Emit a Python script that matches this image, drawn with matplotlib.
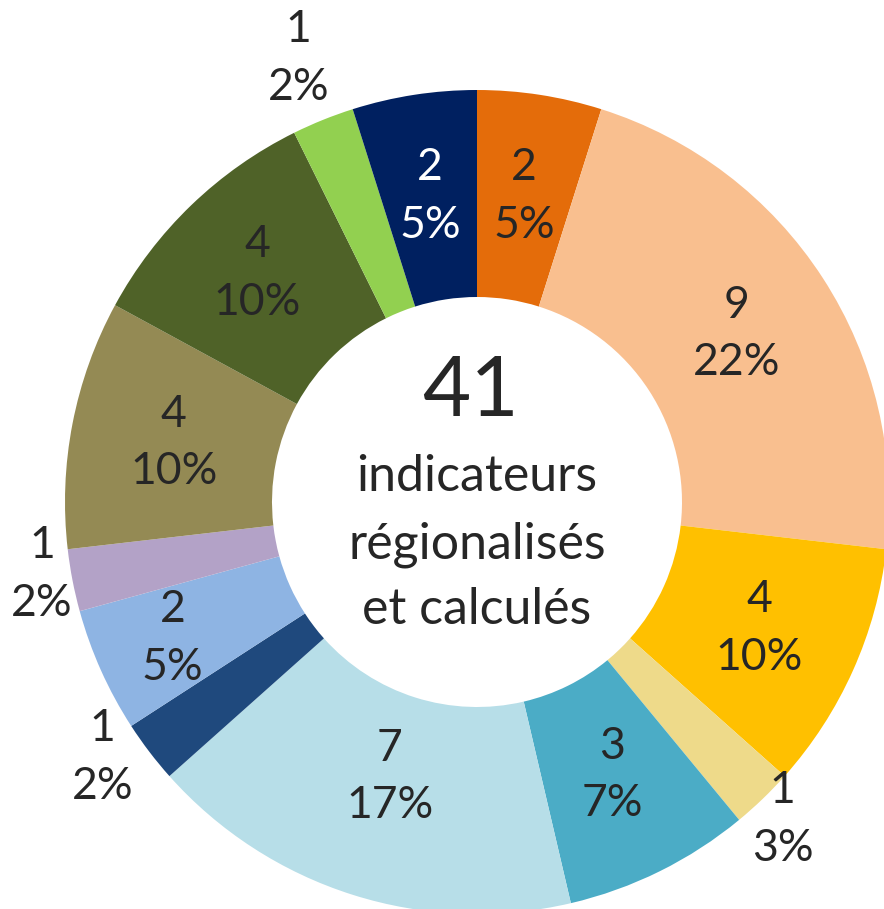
import numpy as np
import matplotlib.pyplot as plt

plt.rcParams['font.family'] = ['Lato', 'DejaVu Sans']

# slices clockwise from the top
counts = [2, 9, 4, 1, 3, 7, 1, 2, 1, 4, 4, 1, 2]
pct_labels = ['5%', '22%', '10%', '3%', '7%', '17%', '2%', '5%', '2%', '10%', '10%', '2%', '5%']
colors = ['#E46C0A', '#F9BF8F', '#FFC000', '#EEDA8A', '#4BACC6', '#B7DEE8', '#1F497D',
          '#8EB4E3', '#B3A2C7', '#948A54', '#4F6228', '#92D050', '#002060']
total_label = '41'
center_lines = ['indicateurs', 'régionalisés', 'et calculés']

# where each label sits: fraction of the outer radius, and a small angle nudge (deg, clockwise)
label_r = [0.75, 0.75, 0.75, 1.07, 0.74, 0.70, 1.10, 0.81, 1.07, 0.75, 0.77, 1.16, 0.75]
label_nudge = [0, 0, 0, 0, 0, 0, 3, 0, 1.5, 0, 0, 0, 0]
text_colors = ['#262626'] * 12 + ['white']

W, H = 884, 909
cx, cy = 477, H - 502
R = 412
ring = 207

fig = plt.figure(figsize=(W / 100, H / 100), dpi=100)
ax = fig.add_axes([0, 0, 1, 1])

wedges, _ = ax.pie(counts, colors=colors, startangle=90, counterclock=False,
                   center=(cx, cy), radius=R,
                   wedgeprops=dict(width=ring, linewidth=0))

for w, n, p, lr, dn, tc in zip(wedges, counts, pct_labels, label_r, label_nudge, text_colors):
    mid = np.deg2rad((w.theta1 + w.theta2) / 2 - dn)
    x = cx + lr * R * np.cos(mid)
    y = cy + lr * R * np.sin(mid)
    ax.text(x, y, f'{n}\n{p}', ha='center', va='center', fontsize=32,
            color=tc, linespacing=1.5)

ax.text(470, H - 393, total_label, ha='center', va='center', fontsize=60, color='#262626')
for line, ty in zip(center_lines, [477, 545, 610]):
    ax.text(477, H - ty, line, ha='center', va='center', fontsize=36, color='#262626')

ax.set_xlim(0, W)
ax.set_ylim(0, H)
ax.set_aspect('auto')
ax.axis('off')

fig.savefig('out.png', dpi=100)
